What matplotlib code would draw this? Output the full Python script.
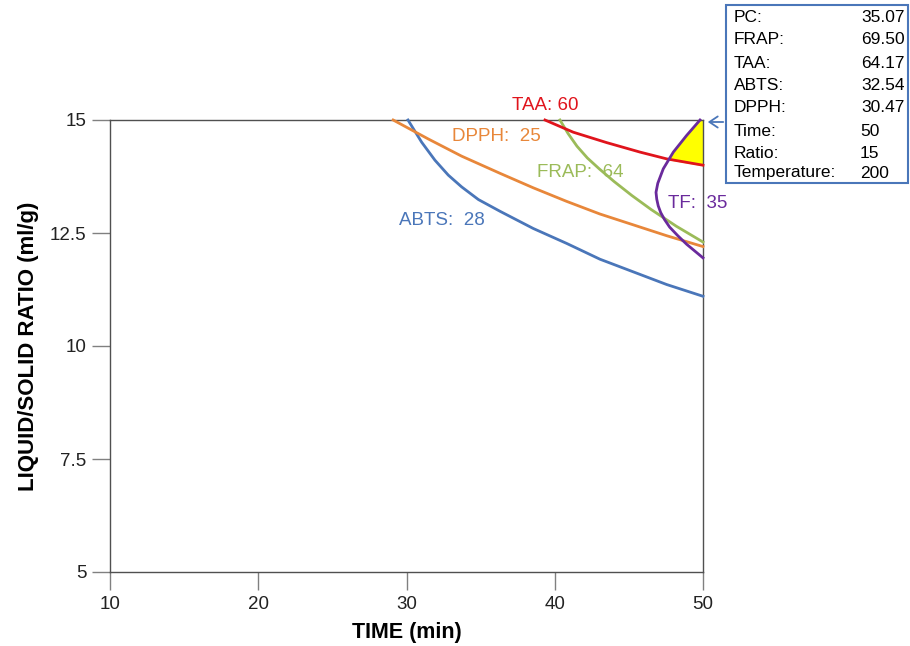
import numpy as np
import matplotlib
matplotlib.use("Agg")
import matplotlib.pyplot as plt
from matplotlib.patches import Rectangle, FancyArrowPatch

plt.rcParams['font.family'] = ['Liberation Sans', 'DejaVu Sans']

# contour lines: (time, ratio)
abts_t = [30.1, 31.02, 31.92, 32.82, 33.72, 34.85, 36.31, 38.55, 40.8, 43.05, 45.3, 47.55, 50.0]
abts_r = [15.0, 14.51, 14.11, 13.78, 13.52, 13.24, 12.98, 12.6, 12.27, 11.92, 11.64, 11.36, 11.1]

dpph_t = [29.1, 31.47, 33.72, 36.31, 38.55, 40.8, 43.05, 45.3, 47.55, 50.0]
dpph_r = [15.0, 14.58, 14.2, 13.82, 13.5, 13.2, 12.92, 12.68, 12.44, 12.2]

frap_t = [40.35, 40.9, 41.5, 42.2, 43.0, 44.0, 45.2, 46.5, 48.2, 50.0]
frap_r = [15.0, 14.7, 14.42, 14.16, 13.92, 13.64, 13.33, 13.02, 12.65, 12.3]

taa_t = [39.34, 41.25, 43.5, 45.75, 47.55, 50.0]
taa_r = [15.0, 14.73, 14.5, 14.29, 14.14, 14.0]

tf_t = [49.8, 48.9, 48.0, 47.32, 46.95, 46.83, 46.88, 46.98, 47.15, 47.4, 47.75,
        48.3, 48.9, 49.45, 50.0]
tf_r = [15.0, 14.66, 14.29, 13.92, 13.6, 13.4, 13.25, 13.1, 12.95, 12.8, 12.63,
        12.44, 12.25, 12.1, 11.95]

labels = ['TAA: 60', 'DPPH:  25', 'FRAP:  64', 'ABTS:  28', 'TF:  35']
label_t = [39.34, 36.08, 41.7, 32.4, 47.64]
label_r = [15.33, 14.63, 13.83, 12.77, 13.16]

box_names = ['PC:', 'FRAP:', 'TAA:', 'ABTS:', 'DPPH:']
box_values = ['35.07', '69.50', '64.17', '32.54', '30.47']
box_factors = ['Time:', 'Ratio:', 'Temperature:']
box_levels = ['50', '15', '200']

c_abts = '#4a76b9'
c_dpph = '#e8873a'
c_frap = '#9bbb59'
c_taa = '#e0141c'
c_tf = '#6a2a9c'

fig = plt.figure(figsize=(9.1, 6.46), dpi=100)
ax = fig.add_axes([110 / 910, 1 - 572 / 646, 593 / 910, 452 / 646])
ax.set_xlim(10, 50)
ax.set_ylim(5, 15)

# yellow sweet spot: right of the TF upper branch and above TAA
k = int(np.argmin(tf_t))
tf_up_r = np.array(tf_r[:k + 1])[::-1]
tf_up_t = np.array(tf_t[:k + 1])[::-1]
rr = np.linspace(min(taa_r), 15, 200)
left_tf = np.interp(rr, tf_up_r, tf_up_t)
left_taa = np.interp(rr, np.array(taa_r)[::-1], np.array(taa_t)[::-1])
ax.fill_betweenx(rr, np.maximum(left_tf, left_taa), 50, color='#ffff00', zorder=1)

lw = 2.0
ax.plot(abts_t, abts_r, color=c_abts, lw=lw, zorder=3, clip_on=False)
ax.plot(dpph_t, dpph_r, color=c_dpph, lw=lw, zorder=3, clip_on=False)
ax.plot(frap_t, frap_r, color=c_frap, lw=lw, zorder=3, clip_on=False)
ax.plot(taa_t, taa_r, color=c_taa, lw=lw, zorder=3, clip_on=False)
ax.plot(tf_t, tf_r, color=c_tf, lw=lw, zorder=4, clip_on=False)

colors = [c_taa, c_dpph, c_frap, c_abts, c_tf]
for i, txt in enumerate(labels):
    ha = 'left' if txt.startswith('TF') else 'center'
    ax.text(label_t[i], label_r[i], txt, color=colors[i], fontsize=13.5,
            ha=ha, va='center', clip_on=False, zorder=5)

ax.set_xticks([10, 20, 30, 40, 50])
ax.set_yticks([5, 7.5, 10, 12.5, 15])
ax.set_yticklabels(['5', '7.5', '10', '12.5', '15'])
ax.tick_params(direction='out', length=13, width=1, color='#808080',
               labelsize=13.5, pad=4, labelcolor='#222222')
for s in ax.spines.values():
    s.set_color('#505050')
    s.set_linewidth(1)

ax.set_xlabel('TIME (min)', fontsize=15.5, fontweight='bold', labelpad=7)
ax.set_ylabel('LIQUID/SOLID RATIO (ml/g)', fontsize=16, fontweight='bold', labelpad=8)

# info box top right
W, H = 910, 646
fig.patches.append(Rectangle((726 / W, 1 - 183 / H), 182 / W, 178 / H,
                             transform=fig.transFigure, fill=False,
                             edgecolor='#4a76b9', lw=1.5))
ys = [17, 40, 63, 85, 108]
for y, n, v in zip(ys, box_names, box_values):
    fig.text(734 / W, 1 - y / H, n, fontsize=12.5, va='center', ha='left')
    fig.text(905 / W, 1 - y / H, v, fontsize=12.5, va='center', ha='right')
ys2 = [132, 154, 173]
for y, n, v in zip(ys2, box_factors, box_levels):
    fig.text(734 / W, 1 - y / H, n, fontsize=12.5, va='center', ha='left')
    fig.text(860 / W, 1 - y / H, v, fontsize=12.5, va='center', ha='left')

fig.patches.append(FancyArrowPatch(
    (726 / W, 1 - 122 / H), (705 / W, 1 - 122 / H),
    transform=fig.transFigure, arrowstyle='->,head_length=6,head_width=4',
    color='#4a76b9', lw=1.3))

fig.savefig('out.png', dpi=100)
